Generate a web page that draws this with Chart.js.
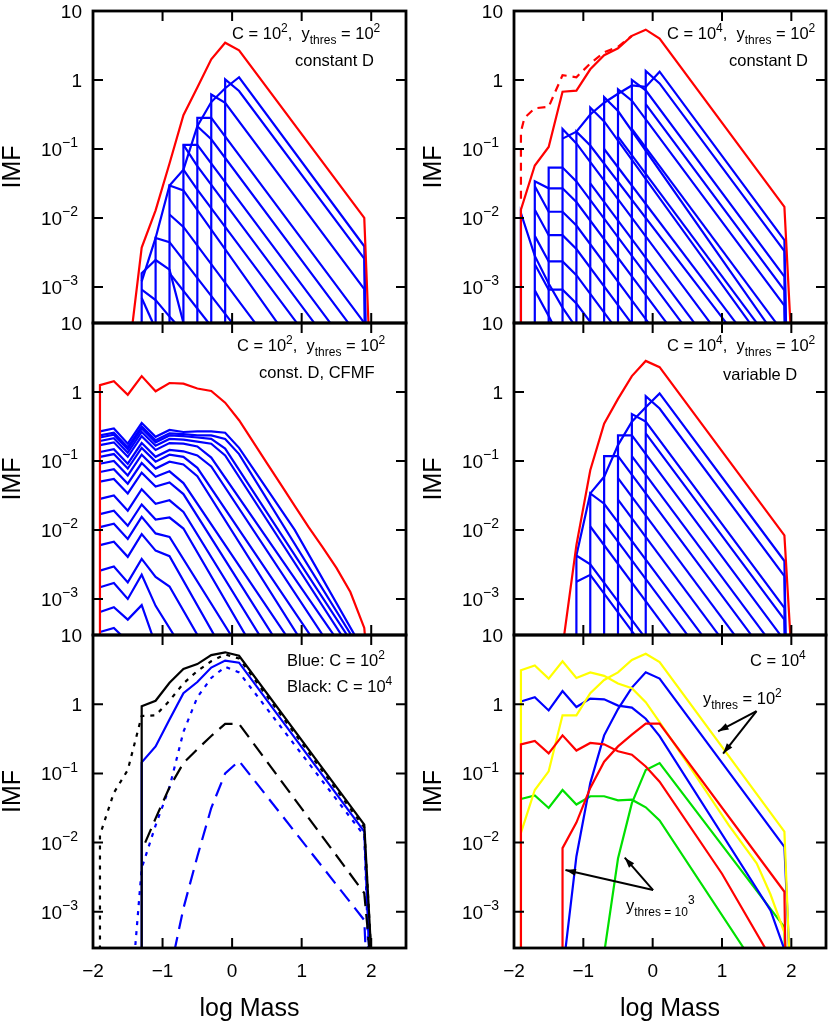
<!DOCTYPE html>
<html>
<head>
<meta charset="utf-8">
<title>IMF panels</title>
<script src="https://cdn.jsdelivr.net/npm/chart.js@4.4.1/dist/chart.umd.min.js"></script>
<style>
  html, body { margin: 0; padding: 0; background: #fff; }
  #page { position: relative; width: 830px; height: 1028px; }
  #page canvas { position: absolute; left: 0; top: 0; }
</style>
</head>
<body>
<div id="page"></div>
<script>
'use strict';

// all curves are [log Mass, log10(IMF)] pairs
const xTicks = [-2, -1, 0, 1, 2];
const xTickLabels = ['\u22122', '\u22121', '0', '1', '2'];
const yTicks = [10, 1, 0.1, 0.01, 0.001];
const yTickLabels = [['10', ''], ['1', ''], ['10', '\u22121'], ['10', '\u22122'], ['10', '\u22123']];

// --- top left: C = 10^2, constant D
const p1Red = [[-1.5,-4.1],[-1.3,-2.43],[-1.1,-1.89],[-0.9,-1.21],[-0.7,-0.51],[-0.5,-0.11],[-0.3,0.30],[-0.1,0.54],[0.1,0.43],[1.9,-2.0],[2.0,-4.53]];
const p1Blue = [
  [[-1.3,-6],[-1.3,-2.80],[-1.1,-2.61],[-0.9,-2.75],[-0.7,-3.52]],
  [[-1.3,-3.16],[-1.14,-3.52]],
  [[-1.3,-3.04],[-1.1,-3.19],[-0.9,-3.43],[-0.82,-3.52]],
  [[-1.1,-6],[-1.1,-2.29],[-0.9,-2.35],[0.0,-3.52]],
  [[-0.9,-2.8],[-0.34,-3.52]],
  [[-0.9,-6],[-0.9,-1.53],[-0.7,-1.6],[0.65,-3.52]],
  [[-0.9,-1.95],[-0.7,-2.13],[0.33,-3.52]],
  [[-0.7,-6],[-0.7,-0.94],[-0.5,-0.94],[1.41,-3.52]],
  [[-0.7,-0.94],[-0.5,-1.25],[1.18,-3.52]],
  [[-0.7,-1.3],[-0.5,-1.59],[0.93,-3.52]],
  [[-0.5,-6],[-0.5,-0.55],[-0.3,-0.55],[1.9,-3.52]],
  [[-0.5,-0.67],[-0.3,-0.86],[1.67,-3.52]],
  [[-0.3,-6],[-0.3,-0.21],[-0.1,-0.33],[1.9,-3.03],[1.93,-6]],
  [[-0.1,-6],[-0.1,0.01],[0.1,-0.16],[1.9,-2.59],[1.95,-6]],
  [[-1.3,-2.92],[-1.1,-2.29],[-0.9,-1.53],[-0.7,-1.30],[-0.5,-0.67],[-0.3,-0.32],[-0.1,-0.12],[0.1,0.04],[1.9,-2.41],[1.96,-6]]
];

// --- top right: C = 10^4, constant D
const p2Red = [[-1.9,-6],[-1.9,-1.88],[-1.7,-1.24],[-1.5,-0.97],[-1.3,-0.17],[-1.1,-0.155],[-0.9,0.155],[-0.7,0.36],[-0.5,0.46],[-0.3,0.64],[-0.1,0.73],[0.1,0.60],[1.9,-1.84],[1.99,-3.6]];
const p2RedDash = [[-1.9,-1.72],[-1.9,-0.75],[-1.85,-0.55],[-1.7,-0.41],[-1.5,-0.39],[-1.3,0.07],[-1.1,0.04],[-0.9,0.24],[-0.7,0.40],[-0.5,0.48],[-0.3,0.64]];
const p2Blue = [
  [[-1.9,-6],[-1.9,-1.93],[-1.7,-2.55],[-1.5,-2.95],[-1.3,-3.3],[-1.15,-3.52]],
  [[-1.5,-6],[-1.5,-1.27],[-1.3,-1.27],[-1.1,-1.47],[0.42,-3.52]],
  [[-1.7,-6],[-1.7,-1.47],[-1.5,-1.57],[-1.3,-1.57],[-1.1,-1.77],[0.2,-3.52]],
  [[-1.7,-1.54],[-1.5,-1.91],[-1.3,-1.91],[-1.1,-2.11],[-0.06,-3.52]],
  [[-1.7,-1.88],[-1.5,-2.25],[-1.3,-2.25],[-1.1,-2.45],[-0.31,-3.52]],
  [[-1.7,-2.26],[-1.5,-2.63],[-1.3,-2.63],[-1.1,-2.83],[-0.59,-3.52]],
  [[-1.7,-2.67],[-1.5,-3.04],[-1.3,-3.04],[-1.1,-3.24],[-0.89,-3.52]],
  [[-1.7,-3.05],[-1.5,-3.42],[-1.45,-3.52]],
  [[-1.3,-6],[-1.3,-0.71],[-1.1,-0.92],[0.83,-3.52]],
  [[-1.1,-6],[-1.1,-0.75],[-0.9,-0.95],[1.06,-3.52]],
  [[-0.9,-6],[-0.9,-0.40],[-0.7,-0.6],[1.4,-3.52]],
  [[-0.7,-6],[-0.7,-0.25],[-0.5,-0.45],[1.64,-3.52]],
  [[-0.5,-6],[-0.5,-0.135],[-0.3,-0.3],[1.9,-3.27],[1.94,-6]],
  [[-0.3,-6],[-0.3,0.0],[-0.1,-0.15],[1.9,-2.85],[1.95,-6]],
  [[-0.1,-6],[-0.1,0.13],[0.1,-0.05],[1.9,-2.48],[1.96,-6]],
  [[-0.9,-1.5],[0.6,-3.52]],
  [[-0.7,-1.0],[1.2,-3.52]],
  [[-0.5,-0.82],[1.5,-3.52]],
  [[-0.3,-0.71],[1.78,-3.52]],
  [[-0.1,-0.35],[1.9,-3.05],[1.95,-6]],
  [[-1.3,-0.85],[-1.1,-0.75],[-0.9,-0.5],[-0.7,-0.33],[-0.5,-0.2],[-0.3,-0.08],[-0.1,-0.1],[0.1,0.12],[1.9,-2.32],[1.97,-6]]
];

// --- middle left: C = 10^2, const. D, CFMF
const p3Red = [[-1.9,-6],[-1.9,0.10],[-1.7,0.155],[-1.5,-0.04],[-1.3,0.23],[-1.1,0.01],[-0.9,0.13],[-0.7,0.12],[-0.5,0.05],[-0.3,0.015],[-0.1,-0.155],[0.1,-0.41],[0.3,-0.72],[0.5,-1.03],[0.7,-1.34],[0.9,-1.65],[1.1,-1.96],[1.3,-2.25],[1.5,-2.55],[1.7,-2.9],[1.9,-3.42],[1.95,-4]];
const p3Blue = [
  [[-1.9,-0.57],[-1.7,-0.53],[-1.5,-0.75],[-1.3,-0.45],[-1.1,-0.65],[-0.9,-0.55],[-0.7,-0.58],[-0.5,-0.57],[-0.3,-0.57],[-0.1,-0.59],[0.1,-0.81],[0.9,-2.0],[1.76,-3.52]],
  [[-1.9,-0.63],[-1.7,-0.59],[-1.5,-0.80],[-1.3,-0.50],[-1.1,-0.70],[-0.9,-0.60],[-0.7,-0.61],[-0.5,-0.63],[-0.3,-0.63],[-0.1,-0.68],[0.1,-0.9],[1.71,-3.52]],
  [[-1.9,-0.66],[-1.7,-0.62],[-1.5,-0.83],[-1.3,-0.53],[-1.1,-0.73],[-0.9,-0.63],[-0.7,-0.64],[-0.5,-0.66],[-0.3,-0.68],[-0.1,-0.82],[1.65,-3.52]],
  [[-1.9,-0.71],[-1.7,-0.67],[-1.5,-0.88],[-1.3,-0.58],[-1.1,-0.78],[-0.9,-0.68],[-0.7,-0.69],[-0.5,-0.72],[-0.3,-0.75],[-0.1,-0.92],[1.57,-3.52]],
  [[-1.9,-0.77],[-1.7,-0.73],[-1.5,-0.94],[-1.3,-0.64],[-1.1,-0.84],[-0.9,-0.74],[-0.7,-0.75],[-0.5,-0.79],[-0.3,-0.95],[1.46,-3.52]],
  [[-1.9,-0.87],[-1.7,-0.83],[-1.5,-1.04],[-1.3,-0.74],[-1.1,-0.94],[-0.9,-0.84],[-0.7,-0.86],[-0.5,-0.92],[-0.3,-1.08],[1.30,-3.52]],
  [[-1.9,-0.94],[-1.7,-0.90],[-1.5,-1.11],[-1.3,-0.81],[-1.1,-1.01],[-0.9,-0.91],[-0.7,-0.94],[-0.5,-1.1],[1.12,-3.52]],
  [[-1.9,-1.04],[-1.7,-1.00],[-1.5,-1.21],[-1.3,-0.91],[-1.1,-1.11],[-0.9,-1.01],[-0.7,-1.05],[-0.5,-1.22],[0.94,-3.52]],
  [[-1.9,-1.16],[-1.7,-1.12],[-1.5,-1.33],[-1.3,-1.03],[-1.1,-1.23],[-0.9,-1.15],[-0.7,-1.32],[0.77,-3.52]],
  [[-1.9,-1.30],[-1.7,-1.26],[-1.5,-1.47],[-1.3,-1.17],[-1.1,-1.37],[-0.9,-1.31],[-0.7,-1.48],[0.58,-3.52]],
  [[-1.9,-1.55],[-1.7,-1.50],[-1.5,-1.72],[-1.3,-1.41],[-1.1,-1.62],[-0.9,-1.57],[-0.7,-1.74],[0.39,-3.52]],
  [[-1.9,-1.77],[-1.7,-1.72],[-1.5,-1.94],[-1.3,-1.63],[-1.1,-1.85],[-0.9,-1.82],[-0.7,-1.98],[0.19,-3.52]],
  [[-1.9,-1.96],[-1.7,-1.91],[-1.5,-2.13],[-1.3,-1.81],[-1.1,-2.05],[-0.9,-2.10],[-0.02,-3.52]],
  [[-1.9,-2.22],[-1.7,-2.17],[-1.5,-2.39],[-1.3,-2.06],[-1.1,-2.30],[-0.9,-2.38],[-0.26,-3.52]],
  [[-1.9,-2.59],[-1.7,-2.53],[-1.5,-2.76],[-1.3,-2.42],[-1.1,-2.68],[-0.9,-2.82],[-0.5,-3.52]],
  [[-1.9,-2.83],[-1.7,-2.77],[-1.5,-3.00],[-1.3,-2.65],[-1.1,-3.10],[-0.84,-3.52]],
  [[-1.9,-3.19],[-1.7,-3.12],[-1.5,-3.30],[-1.3,-3.09],[-1.15,-3.52]],
  [[-1.9,-3.48],[-1.7,-3.42],[-1.6,-3.52]]
];

// --- middle right: C = 10^4, variable D
const p4Red = [[-1.3,-3.7],[-1.1,-2.22],[-0.9,-1.135],[-0.7,-0.46],[-0.5,-0.10],[-0.3,0.23],[-0.1,0.45],[0.1,0.36],[1.9,-2.08],[1.99,-3.6]];
const p4Blue = [
  [[-1.1,-6],[-1.1,-2.37],[-0.9,-2.5],[-0.14,-3.52]],
  [[-1.1,-2.75],[-0.9,-2.65],[-0.26,-3.52]],
  [[-0.9,-6],[-0.9,-1.47],[-0.7,-1.62],[0.71,-3.52]],
  [[-0.9,-1.95],[0.26,-3.52]],
  [[-0.7,-6],[-0.7,-0.93],[-0.5,-0.93],[1.42,-3.52]],
  [[-0.7,-1.9],[0.5,-3.52]],
  [[-0.5,-6],[-0.5,-0.63],[-0.3,-0.63],[1.84,-3.52]],
  [[-0.5,-1.25],[1.18,-3.52]],
  [[-0.5,-1.56],[0.95,-3.52]],
  [[-0.3,-6],[-0.3,-0.32],[-0.1,-0.43],[1.9,-3.13],[1.95,-6]],
  [[-0.3,-0.93],[1.62,-3.52]],
  [[-0.1,-6],[-0.1,-0.06],[0.1,-0.24],[1.9,-2.67],[1.95,-6]],
  [[-0.1,-0.6],[1.9,-3.3],[1.95,-6]],
  [[-1.1,-2.37],[-0.9,-1.47],[-0.7,-1.23],[-0.5,-0.77],[-0.3,-0.43],[-0.1,-0.22],[0.1,-0.02],[1.9,-2.45],[1.96,-6]]
];

// --- bottom left: blue C = 10^2, black C = 10^4
const p5BlackSolid = [[-1.3,-6],[-1.3,-0.03],[-1.1,0.05],[-0.9,0.31],[-0.7,0.51],[-0.5,0.58],[-0.3,0.71],[-0.1,0.75],[0.1,0.70],[1.9,-1.74],[2.0,-3.6]];
const p5BlackDot = [[-1.9,-6],[-1.9,-1.89],[-1.7,-1.28],[-1.5,-0.95],[-1.3,-0.17],[-1.1,-0.16],[-0.9,0.05],[-0.7,0.30],[-0.5,0.48],[-0.3,0.62],[-0.1,0.72],[0.1,0.66],[1.9,-1.78],[2.0,-3.6]];
const p5BlackDash = [[-1.25,-2.0],[-1.1,-1.65],[-0.9,-1.2],[-0.7,-0.85],[-0.5,-0.65],[-0.3,-0.46],[-0.1,-0.285],[0.1,-0.285],[1.9,-2.73],[1.98,-3.6]];
const p5BlueSolid = [[-1.3,-6],[-1.3,-0.84],[-1.1,-0.61],[-0.9,-0.22],[-0.7,0.16],[-0.5,0.32],[-0.3,0.53],[-0.1,0.63],[0.1,0.60],[1.9,-1.84],[1.97,-3.6]];
const p5BlueDot = [[-1.45,-4.2],[-1.3,-2.37],[-1.1,-1.75],[-0.9,-1.2],[-0.7,-0.4],[-0.5,0.1],[-0.3,0.38],[-0.1,0.54],[0.1,0.46],[1.9,-1.9],[1.96,-3.6]];
const p5BlueDash = [[-0.9,-3.9],[-0.7,-2.95],[-0.5,-2.2],[-0.3,-1.5],[-0.1,-1.0],[0.1,-0.82],[1.9,-3.12],[1.94,-4]];

// --- bottom right: C = 10^4, y_thres = 10^2 / 10^3
const p6YellowCf = [[-1.9,-6],[-1.9,0.49],[-1.7,0.56],[-1.5,0.37],[-1.3,0.62],[-1.1,0.38],[-0.9,0.46],[-0.7,0.41],[-0.5,0.30],[-0.3,0.23],[-0.1,0.03],[0.1,-0.26],[0.5,-0.85],[1.1,-1.75],[1.5,-2.3],[1.7,-2.75],[1.9,-3.3],[1.96,-4]];
const p6YellowRise = [[-1.9,-1.86],[-1.7,-1.24],[-1.5,-0.97],[-1.3,-0.16],[-1.1,-0.16],[-0.9,0.16],[-0.7,0.35],[-0.5,0.46],[-0.3,0.64],[-0.1,0.73],[0.1,0.61],[1.9,-1.84],[1.97,-3.6]];
const p6BlueCf = [[-1.9,0.04],[-1.7,0.10],[-1.5,-0.09],[-1.3,0.19],[-1.1,-0.04],[-0.9,0.08],[-0.7,0.07],[-0.5,-0.02],[-0.3,-0.05],[-0.1,-0.21],[0.1,-0.46],[1.7,-2.98],[1.92,-3.6]];
const p6BlueRise = [[-1.3,-3.9],[-1.1,-2.2],[-0.9,-1.14],[-0.7,-0.45],[-0.5,-0.07],[-0.3,0.24],[-0.1,0.46],[0.1,0.37],[1.9,-2.06],[1.97,-3.6]];
const p6RedCf = [[-1.9,-6],[-1.9,-0.58],[-1.7,-0.53],[-1.5,-0.71],[-1.3,-0.45],[-1.1,-0.67],[-0.9,-0.56],[-0.7,-0.58],[-0.5,-0.68],[-0.3,-0.73],[-0.1,-0.90],[0.1,-1.12],[1.0,-2.45],[1.62,-3.52]];
const p6RedRise = [[-1.3,-6],[-1.3,-2.08],[-1.1,-1.71],[-0.9,-1.21],[-0.7,-0.83],[-0.5,-0.61],[-0.3,-0.44],[-0.1,-0.28],[0.1,-0.28],[1.9,-2.71],[1.95,-6]];
const p6GreenCf = [[-1.9,-1.37],[-1.7,-1.32],[-1.5,-1.50],[-1.3,-1.24],[-1.1,-1.45],[-0.9,-1.33],[-0.7,-1.33],[-0.5,-1.39],[-0.3,-1.38],[-0.1,-1.49],[0.1,-1.68],[1.31,-3.52]];
const p6GreenRise = [[-0.7,-3.6],[-0.5,-2.23],[-0.3,-1.43],[-0.1,-0.95],[0.1,-0.85],[1.9,-3.22],[1.95,-6]];

const FONT = '"Liberation Sans", Arial, Helvetica, sans-serif';
const BLUE = '#0000ff', RED = '#ff0000', BLACK = '#000000', YELLOW = '#ffff00', GREEN = '#00e000';
const Y_MIN = Math.pow(10, -3.52);

const pts = arr => arr.map(([x, lg]) => ({ x: x, y: Math.pow(10, lg) }));
const line = (arr, color, dash) => ({
  data: pts(arr), borderColor: color, borderWidth: 2.2, borderDash: dash || [],
  fill: false, pointRadius: 0, tension: 0, clip: 0
});

// text with super/subscripts: runs = [[text, 'n'|'sup'|'sub'], ...]
function drawRuns(ctx, runs, x, y, size, align) {
  const small = Math.round(size * 0.72);
  let w = 0;
  const parts = runs.map(([t, k]) => {
    const fs = k === 'n' ? size : small;
    ctx.font = fs + 'px ' + FONT;
    const tw = ctx.measureText(t).width;
    w += tw;
    return { t, k, fs, tw };
  });
  let cx = align === 'right' ? x - w : x;
  ctx.textAlign = 'left';
  ctx.textBaseline = 'alphabetic';
  for (const p of parts) {
    ctx.font = p.fs + 'px ' + FONT;
    const dy = p.k === 'sup' ? -size * 0.45 : (p.k === 'sub' ? size * 0.3 : 0);
    ctx.fillText(p.t, cx, y + dy);
    cx += p.tw;
  }
}

function arrow(ctx, x0, y0, x1, y1) {
  ctx.beginPath();
  ctx.moveTo(x0, y0);
  ctx.lineTo(x1, y1);
  ctx.stroke();
  const ang = Math.atan2(y1 - y0, x1 - x0);
  const L = 11, W = 0.32;
  ctx.beginPath();
  ctx.moveTo(x1, y1);
  ctx.lineTo(x1 - L * Math.cos(ang - W), y1 - L * Math.sin(ang - W));
  ctx.lineTo(x1 - L * Math.cos(ang + W), y1 - L * Math.sin(ang + W));
  ctx.closePath();
  ctx.fill();
}

const framePlugin = {
  id: 'frame',
  afterDatasetsDraw(chart, args, opts) {
    const ctx = chart.ctx, a = chart.chartArea;
    const sx = chart.scales.x, sy = chart.scales.y;
    ctx.save();
    ctx.strokeStyle = '#000';
    ctx.fillStyle = '#000';
    ctx.lineWidth = 2;
    ctx.beginPath();
    yTicks.forEach(v => {
      const py = sy.getPixelForValue(v);
      ctx.moveTo(a.left, py); ctx.lineTo(a.left + 10, py);
      ctx.moveTo(a.right, py); ctx.lineTo(a.right - 10, py);
    });
    xTicks.forEach(v => {
      const px = sx.getPixelForValue(v);
      ctx.moveTo(px, a.top); ctx.lineTo(px, a.top + 10);
      ctx.moveTo(px, a.bottom); ctx.lineTo(px, a.bottom - 10);
    });
    ctx.stroke();
    ctx.lineWidth = 2.8;
    ctx.strokeRect(a.left, a.top, a.right - a.left, a.bottom - a.top);

    yTicks.forEach((v, i) => {
      const [base, sup] = yTickLabels[i];
      const py = sy.getPixelForValue(v) + 7;
      if (sup) drawRuns(ctx, [[base, 'n'], [sup, 'sup']], a.left - 15, py, 19, 'right');
      else drawRuns(ctx, [[base, 'n']], a.left - 11, py, 19, 'right');
    });

    ctx.save();
    ctx.translate(a.left - 80, (a.top + a.bottom) / 2);
    ctx.rotate(-Math.PI / 2);
    ctx.font = '25px ' + FONT;
    ctx.textAlign = 'center';
    ctx.textBaseline = 'middle';
    ctx.fillText('IMF', 0, 0);
    ctx.restore();

    if (opts.xLabels) {
      ctx.font = '19px ' + FONT;
      ctx.textAlign = 'center';
      ctx.textBaseline = 'alphabetic';
      xTicks.forEach((v, i) => ctx.fillText(xTickLabels[i], sx.getPixelForValue(v), a.bottom + 29));
      ctx.font = '25px ' + FONT;
      ctx.fillText('log Mass', (a.left + a.right) / 2, a.bottom + 68);
    }

    (opts.notes || []).forEach(n => drawRuns(ctx, n.runs, n.x, n.y, n.size || 16.5, 'left'));

    ctx.lineWidth = 2;
    (opts.arrows || []).forEach(ar => {
      arrow(ctx,
        sx.getPixelForValue(ar.from[0]), sy.getPixelForValue(Math.pow(10, ar.from[1])),
        sx.getPixelForValue(ar.to[0]), sy.getPixelForValue(Math.pow(10, ar.to[1])));
    });
    ctx.restore();
  }
};

Chart.defaults.font.family = FONT;
const page = document.getElementById('page');

function makePanel(box, datasets, frameOpts) {
  const cv = document.createElement('canvas');
  cv.width = 830;
  cv.height = 1028;
  page.appendChild(cv);
  return new Chart(cv, {
    type: 'line',
    data: { datasets: datasets },
    options: {
      responsive: false,
      animation: false,
      devicePixelRatio: 1,
      events: [],
      layout: { padding: { left: box[0], top: box[1], right: 830 - box[2], bottom: 1028 - box[3] } },
      plugins: { legend: { display: false }, tooltip: { enabled: false }, frame: frameOpts },
      scales: {
        x: { type: 'linear', min: -2, max: 2.5, display: false },
        y: { type: 'logarithmic', min: Y_MIN, max: 10, display: false }
      }
    },
    plugins: [framePlugin]
  });
}

const cy = (c, y) => [['C = 10', 'n'], [c, 'sup'], [',  y', 'n'], ['thres', 'sub'], [' = 10', 'n'], [y, 'sup']];

makePanel([93, 11, 406, 323],
  [line(p1Red, RED)].concat(p1Blue.map(c => line(c, BLUE))),
  { notes: [ { runs: cy('2', '2'), x: 232, y: 39 }, { runs: [['constant D', 'n']], x: 295, y: 66 } ] });

makePanel([514, 11, 826, 323],
  [line(p2Red, RED), line(p2RedDash, RED, [8, 6])].concat(p2Blue.map(c => line(c, BLUE))),
  { notes: [ { runs: cy('4', '2'), x: 667, y: 39 }, { runs: [['constant D', 'n']], x: 729, y: 66 } ] });

makePanel([93, 323, 406, 635],
  [line(p3Red, RED)].concat(p3Blue.map(c => line(c, BLUE))),
  { notes: [ { runs: cy('2', '2'), x: 237, y: 351 }, { runs: [['const. D, CFMF', 'n']], x: 259, y: 378 } ] });

makePanel([514, 323, 826, 635],
  [line(p4Red, RED)].concat(p4Blue.map(c => line(c, BLUE))),
  { notes: [ { runs: cy('4', '2'), x: 667, y: 351 }, { runs: [['variable D', 'n']], x: 723, y: 380 } ] });

makePanel([93, 635, 406, 948],
  [line(p5BlackSolid, BLACK), line(p5BlackDot, BLACK, [4, 6]), line(p5BlackDash, BLACK, [15, 8]),
   line(p5BlueSolid, BLUE), line(p5BlueDot, BLUE, [4, 6]), line(p5BlueDash, BLUE, [15, 8])],
  { xLabels: true,
    notes: [ { runs: [['Blue: C = 10', 'n'], ['2', 'sup']], x: 287, y: 666 },
             { runs: [['Black: C = 10', 'n'], ['4', 'sup']], x: 287, y: 692 } ] });

makePanel([514, 635, 826, 948],
  [line(p6RedCf, RED), line(p6RedRise, RED), line(p6YellowCf, YELLOW), line(p6YellowRise, YELLOW),
   line(p6BlueCf, BLUE), line(p6BlueRise, BLUE), line(p6GreenCf, GREEN), line(p6GreenRise, GREEN)],
  { xLabels: true,
    notes: [ { runs: [['C = 10', 'n'], ['4', 'sup']], x: 750, y: 666 },
             { runs: [['y', 'n'], ['thres', 'sub'], [' = 10', 'n'], ['2', 'sup']], x: 703, y: 704 },
             { runs: [['y', 'n'], ['thres = 10', 'sub'], ['3', 'sup']], x: 626, y: 911 } ],
    arrows: [ { from: [1.498, -0.101], to: [0.944, -0.391] },
              { from: [1.498, -0.101], to: [1.016, -0.714] },
              { from: [0.006, -2.686], to: [-1.258, -2.396] },
              { from: [0.006, -2.686], to: [-0.403, -2.217] } ] });
</script>
</body>
</html>
